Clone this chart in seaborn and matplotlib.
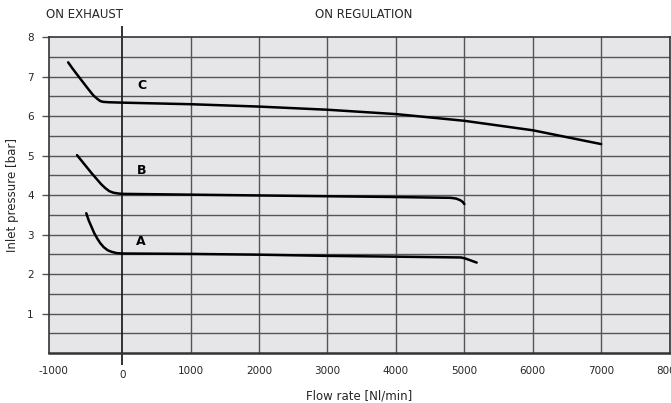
import numpy as np
import pandas as pd
import seaborn as sns
from matplotlib import pyplot as plt

# curve data: flow rate [Nl/min] vs inlet pressure [bar]
curve_a_flow = [-525, -490, -450, -410, -365, -320, -270, -210, -150, -80, 0,
                1000, 2000, 3000, 4000, 4950, 5020, 5100, 5180]
curve_a_pres = [3.54, 3.36, 3.20, 3.04, 2.90, 2.78, 2.68, 2.60, 2.56, 2.53, 2.52,
                2.51, 2.49, 2.46, 2.44, 2.42, 2.39, 2.34, 2.29]

curve_b_flow = [-660, -590, -520, -450, -380, -310, -250, -190, -130, -60, 0,
                1000, 2000, 3000, 4000, 4800, 4880, 4940, 4980, 5000]
curve_b_pres = [5.01, 4.86, 4.71, 4.56, 4.42, 4.28, 4.18, 4.10, 4.06, 4.04, 4.03,
                4.01, 3.99, 3.97, 3.95, 3.93, 3.91, 3.87, 3.82, 3.77]

curve_c_flow = [-790, -720, -650, -570, -490, -420, -360, -320, -280, -200, 0,
                1000, 2000, 3000, 4000, 5000, 6000, 7000]
curve_c_pres = [7.36, 7.19, 7.03, 6.85, 6.67, 6.52, 6.43, 6.38, 6.36, 6.35, 6.34,
                6.30, 6.24, 6.16, 6.05, 5.88, 5.64, 5.29]

curve_names = ['A', 'B', 'C']
label_pos_flow = [270, 280, 290]
label_pos_pres = [2.82, 4.63, 6.78]

x_ticks = [-1000, 1000, 2000, 3000, 4000, 5000, 6000, 7000, 8000]
y_ticks = [1, 2, 3, 4, 5, 6, 7, 8]

df = pd.concat([
    pd.DataFrame({'flow': curve_a_flow, 'pressure': curve_a_pres, 'curve': 'A'}),
    pd.DataFrame({'flow': curve_b_flow, 'pressure': curve_b_pres, 'curve': 'B'}),
    pd.DataFrame({'flow': curve_c_flow, 'pressure': curve_c_pres, 'curve': 'C'}),
])

sns.set_style('white')
plt.rcParams['font.family'] = ['Liberation Sans Narrow', 'DejaVu Sans']

fig = plt.figure(figsize=(6.71, 4.03), dpi=100)
ax = fig.add_axes([0.073, 0.124, 0.925, 0.784])
ax.set_facecolor('#e6e6e8')

# grid
for x in range(1000, 9000, 1000):
    ax.axvline(x, color='#555555', lw=1.0, zorder=1)
for y in np.arange(0.5, 8, 0.5):
    ax.axhline(y, color='#555555', lw=1.0, zorder=1)
ax.axvline(0, color='#222222', lw=1.3, zorder=1)
ax.vlines(0, 8, 8.28, color='#222222', lw=1.3, clip_on=False)
ax.vlines(0, -0.3, 0, color='#222222', lw=1.3, clip_on=False)

sns.lineplot(data=df, x='flow', y='pressure', hue='curve',
             palette=['black'] * 3, sort=False, estimator=None,
             legend=False, lw=1.8, ax=ax, zorder=3)

for name, fx, py in zip(curve_names, label_pos_flow, label_pos_pres):
    ax.text(fx, py, name, fontsize=9, fontweight='bold', color='black',
            ha='center', va='center')

ax.set_xlim(-1070, 8000)
ax.set_ylim(0, 8)
ax.set_xticks(x_ticks)
ax.set_xticklabels([str(t) for t in x_ticks], fontsize=7.5)
ax.set_yticks(y_ticks)
ax.set_yticklabels([str(t) for t in y_ticks], fontsize=7.5)
ax.tick_params(axis='x', length=0, pad=9)
ax.tick_params(axis='y', length=5, width=1, color='#555555', pad=6, left=True)
ax.text(0, -0.55, '0', fontsize=7.5, ha='center', va='center', color='0.15')

for s in ax.spines.values():
    s.set_color('#333333')
    s.set_linewidth(1.2)
ax.spines['bottom'].set_linewidth(1.8)

ax.set_xlabel('Flow rate [Nl/min]', fontsize=8.5, labelpad=10)
ax.set_ylabel('Inlet pressure [bar]', fontsize=8.5, labelpad=6)

fig.text(84 / 671, 1 - 15 / 403, 'ON EXHAUST', fontsize=8.5, ha='center', va='center')
fig.text(364 / 671, 1 - 15 / 403, 'ON REGULATION', fontsize=8.5, ha='center', va='center')

fig.savefig('out.png', dpi=100)
